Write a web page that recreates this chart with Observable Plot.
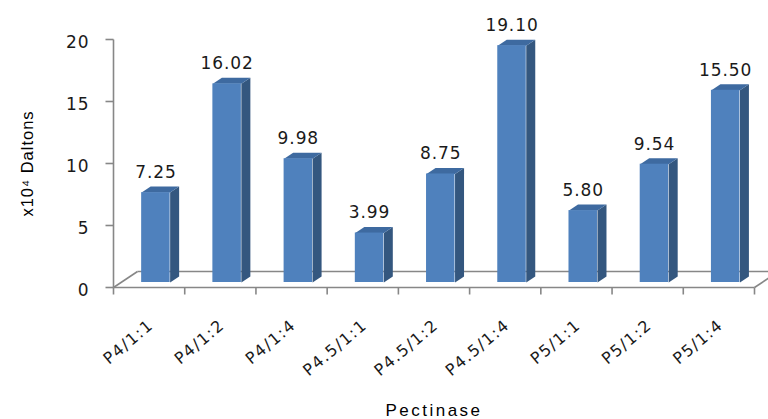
<!DOCTYPE html>
<html>
<head>
<meta charset="utf-8">
<script src="https://cdn.jsdelivr.net/npm/d3@7"></script>
<script src="https://cdn.jsdelivr.net/npm/@observablehq/plot@0.6"></script>
<style>
  html, body { margin: 0; padding: 0; background: #fff; overflow: hidden; }
  #chart svg { display: block; }
</style>
</head>
<body>
<div id="chart"></div>
<script>
// ---- data ----
const categories = ["P4/1:1", "P4/1:2", "P4/1:4", "P4.5/1:1", "P4.5/1:2", "P4.5/1:4", "P5/1:1", "P5/1:2", "P5/1:4"];
const values = [7.25, 16.02, 9.98, 3.99, 8.75, 19.10, 5.80, 9.54, 15.50];
const yTicks = [0, 5, 10, 15, 20];
const xTitle = "Pectinase";
const yTitle = "x10\u2074 Daltons";

// ---- layout ----
const W = 768, H = 419;
const mL = 113, mR = 14, mT = 39, mB = 132;
const kx = (W - mL - mR) / categories.length; // px per x unit
const ky = (H - mT - mB) / 20;                // px per y unit
const axisColor = "#878787";
const frontColor = "#4f81bd", sideColor = "#34577f", topColor = "#3e6aa0";
const offX = 7.5, offY = -5;    // bar plane offset from axis plane (px)
const depX = 9, depY = 6;       // bar depth (px)
const floorX = 24, floorY = 16; // floor depth (px)
const bx1 = 0.29, bx2 = 0.69;   // bar extent within band

const bars = categories.map((c, i) => ({c, i, v: values[i]}));

// face polygons (data coordinates derived from the values)
const sideVerts = [], topVerts = [];
for (const b of bars) {
  const x1 = b.i + bx1, x2 = b.i + bx2, ddx = depX / kx, ddy = depY / ky;
  sideVerts.push(
    {id: b.i, x: x2, y: 0}, {id: b.i, x: x2, y: b.v},
    {id: b.i, x: x2 + ddx, y: b.v + ddy}, {id: b.i, x: x2 + ddx, y: ddy}
  );
  topVerts.push(
    {id: b.i, x: x1, y: b.v}, {id: b.i, x: x2, y: b.v},
    {id: b.i, x: x2 + ddx, y: b.v + ddy}, {id: b.i, x: x1 + ddx, y: b.v + ddy}
  );
}

const n = categories.length;
const fx = floorX / kx, fy = floorY / ky;
const axisSegs = [
  {x1: 0, y1: 0, x2: n, y2: 0},
  {x1: 0, y1: 0, x2: fx, y2: fy},
  {x1: n, y1: 0, x2: n + fx, y2: fy},
  {x1: fx, y1: fy, x2: n + fx, y2: fy},
  {x1: 0, y1: 0, x2: 0, y2: 20}
];
const xTickPos = d3.range(n + 1);

const chart = Plot.plot({
  width: W, height: H,
  marginLeft: mL, marginRight: mR, marginTop: mT, marginBottom: mB,
  x: {type: "linear", domain: [0, n], axis: null},
  y: {type: "linear", domain: [0, 20], axis: null},
  style: {fontFamily: "DejaVu Sans, sans-serif", background: "#fff", overflow: "hidden"},
  marks: [
    Plot.link(axisSegs, {x1: "x1", y1: "y1", x2: "x2", y2: "y2", stroke: axisColor, strokeWidth: 1.6}),
    Plot.link(yTicks, {x1: -8 / kx, x2: 0, y1: d => d, y2: d => d, stroke: axisColor, strokeWidth: 1.6}),
    Plot.link(xTickPos, {x1: d => d, x2: d => d, y1: 0, y2: -7 / ky, stroke: axisColor, strokeWidth: 1.6}),
    Plot.line(sideVerts, {x: "x", y: "y", z: "id", fill: sideColor, stroke: "none", dx: offX, dy: offY}),
    Plot.line(topVerts, {x: "x", y: "y", z: "id", fill: topColor, stroke: "none", dx: offX, dy: offY}),
    Plot.rect(bars, {x1: d => d.i + bx1, x2: d => d.i + bx2, y1: 0, y2: "v", fill: frontColor, dx: offX, dy: offY}),
    Plot.text(bars, {x: d => d.i + (bx1 + bx2) / 2, y: "v", text: d => d.v.toFixed(2),
      dx: offX, dy: -25, fontSize: 17, fill: "#1a1a1a", lineAnchor: "middle"}),
    Plot.text(yTicks, {x: 0, y: d => d, text: d => String(d), textAnchor: "end",
      dx: -24, dy: 3, fontSize: 17, fill: "#1a1a1a", lineAnchor: "middle"}),
    Plot.text(bars, {x: d => d.i + 0.5, y: 0, text: "c", rotate: -40, textAnchor: "end",
      dx: 2, dy: 35.5, fontSize: 16, fill: "#1a1a1a", lineAnchor: "middle"}),
    Plot.text([xTitle], {x: n / 2, y: 0, text: d => d, dy: 123, fontSize: 17,
      fontFamily: "Liberation Sans, Arial, sans-serif", fill: "#000", lineAnchor: "middle"}),
    Plot.text([yTitle], {x: 0, y: 10, text: d => d, rotate: -90, dx: -85.5, fontSize: 16.5,
      fontFamily: "Liberation Sans, Arial, sans-serif", fill: "#000", lineAnchor: "middle"})
  ]
});

// letter spacing to mimic the wider glyphs of the original
const catSet = new Set(categories);
chart.querySelectorAll("text").forEach(t => {
  const s = t.textContent;
  if (s === xTitle) t.setAttribute("letter-spacing", "2.5px");
  else if (s === yTitle) t.setAttribute("letter-spacing", "1px");
  else if (catSet.has(s)) t.setAttribute("letter-spacing", "1.4px");
  else t.setAttribute("letter-spacing", "0.9px");
});

document.getElementById("chart").appendChild(chart);
</script>
</body>
</html>
